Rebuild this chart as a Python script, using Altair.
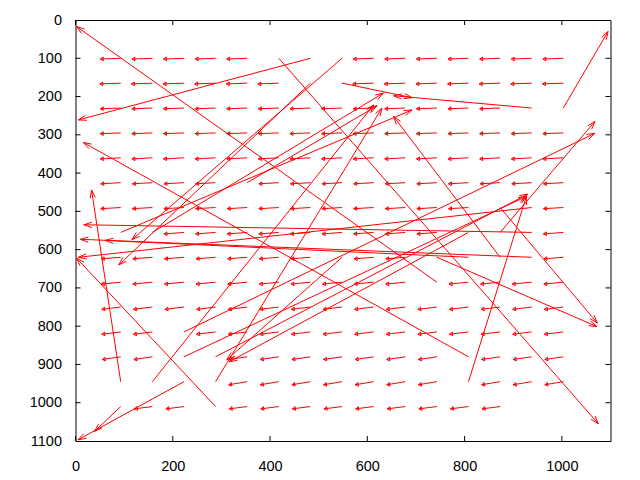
import math
import altair as alt
import pandas as pd

# grid of vector tails (data units)
grid_x = [93, 158, 223, 288, 353, 418, 483, 548, 613, 678, 743, 808, 873, 938, 1003]
grid_y = [100, 165, 230, 295, 360, 425, 490, 555, 620, 685, 750, 815, 880, 945, 1010]

# which grid cells carry a short vector (1) - rows top to bottom
short_mask = [
    "111110001111111",
    "111111001111111",
    "111111111111100",
    "111111111111111",
    "111111111111111",
    "111101111111111",
    "111111111111001",
    "001111111110001",
    "111111101100001",
    "111111111101111",
    "111111111111111",
    "110111111111111",
    "110011111110111",
    "000011111110111",
    "011011111111100",
]
# typical short vector per row
row_dx = [-42, -43, -42, -42, -42, -41, -41, -41, -40, -40, -39, -39, -38, -38, -37]
row_dy = [2, 2, 2, 2, 3, 3, 3, 4, 4, 5, 6, 6, 7, 8, 6]

# long (outlier) vectors: tail grid column, tail grid row, head x, head y
long_col = [10, 6, 11, 3, 0, 5, 7, 6, 7, 13, 14, 12, 12, 11, 12, 13,
            13, 13, 11, 3, 2, 1, 4, 1, 0, 2, 7, 11, 0, 2, 3, 10]
long_row = [9, 0, 12, 14, 13, 0, 0, 1, 1, 2, 2, 6, 8, 13, 7, 7,
            8, 6, 8, 13, 13, 13, 5, 7, 7, 11, 8, 7, 14, 12, 12, 8]
long_hx = [2, 6, 16, 2, 33, 1075, 116, 89, 692, 654, 1095, 1073, 654, 927, 1068, 17,
           10, 6, 61, 630, 5, 613, 620, 633, 692, 1068, 311, 316, 39, 927, 930, 1072]
long_hy = [17, 261, 320, 622, 444, 1055, 574, 640, 203, 198, 30, 792, 252, 461, 265, 535,
           573, 620, 576, 230, 1097, 222, 224, 191, 235, 296, 888, 893, 1075, 461, 455, 801]

x_ticks = [0, 200, 400, 600, 800, 1000]
y_ticks = [0, 100, 200, 300, 400, 500, 600, 700, 800, 900, 1000, 1100]

W, H = 535, 421
SX, SY = W / 1100.0, H / 1100.0

segs = []


def add_arrow(x, y, x2, y2, L, ang, closed):
    segs.append((x, y, x2, y2))
    px, py = (x2 - x) * SX, (y2 - y) * SY
    d = math.hypot(px, py)
    ux, uy = px / d, py / d
    ends = []
    for s in (1, -1):
        c, sn = math.cos(ang), math.sin(s * ang)
        bx = -ux * c + uy * sn
        by = -uy * c - ux * sn
        ex, ey = x2 + L * bx / SX, y2 + L * by / SY
        ends.append((ex, ey))
        segs.append((x2, y2, ex, ey))
    if closed:
        segs.append((ends[0][0], ends[0][1], ends[1][0], ends[1][1]))


for j, row in enumerate(short_mask):
    for k, ch in enumerate(row):
        if ch == "1":
            x, y = grid_x[k], grid_y[j]
            add_arrow(x, y, x + row_dx[j], y + row_dy[j], 3.5, math.radians(32), True)

for k, j, hx, hy in zip(long_col, long_row, long_hx, long_hy):
    add_arrow(grid_x[k], grid_y[j], hx, hy, 8.5, math.radians(18), False)

df = pd.DataFrame(segs, columns=["x", "y", "x2", "y2"])

xs = alt.Scale(domain=[0, 1100], nice=False, zero=False)
ys = alt.Scale(domain=[0, 1100], nice=False, zero=False, reverse=True)
font = "Liberation Sans"

xaxis = alt.Axis(values=x_ticks, format="d", ticks=False, tickSize=0,
                 domain=False, grid=False, labelFontSize=14.5, labelFont=font,
                 labelColor="black", labelPadding=18, title=None, labelFlush=False,
                 labelOverlap=False)
yaxis = alt.Axis(values=y_ticks, format="d", ticks=False, tickSize=0,
                 domain=False, grid=False, labelFontSize=14.5, labelFont=font,
                 labelColor="black", labelPadding=14, title=None, labelFlush=False,
                 labelOverlap=False)

arrows = alt.Chart(df).mark_rule(color="#ff0000", strokeWidth=1).encode(
    x=alt.X("x:Q", scale=xs, axis=xaxis),
    y=alt.Y("y:Q", scale=ys, axis=yaxis),
    x2="x2:Q",
    y2="y2:Q",
)

xt = pd.DataFrame({"v": x_ticks})
yt = pd.DataFrame({"v": y_ticks[1:-1]})
tick = 5
bottom = alt.Chart(xt).mark_rule(color="black").encode(
    x=alt.X("v:Q", scale=xs, axis=xaxis), y=alt.value(H), y2=alt.value(H - tick))
top = alt.Chart(xt).mark_rule(color="black").encode(
    x=alt.X("v:Q", scale=xs, axis=xaxis), y=alt.value(0), y2=alt.value(tick))
left = alt.Chart(yt).mark_rule(color="black").encode(
    y=alt.Y("v:Q", scale=ys, axis=yaxis), x=alt.value(0), x2=alt.value(tick))
right = alt.Chart(yt).mark_rule(color="black").encode(
    y=alt.Y("v:Q", scale=ys, axis=yaxis), x=alt.value(W), x2=alt.value(W - tick))

chart = alt.layer(arrows, bottom, top, left, right).properties(
    width=W, height=H,
    autosize=alt.AutoSizeParams(type="none"),
    padding={"left": 67.5, "top": 12, "right": 21.5, "bottom": 31},
).configure_view(stroke="black", strokeWidth=1)

chart.save("out.html", embed_options={"renderer": "svg", "actions": False})
